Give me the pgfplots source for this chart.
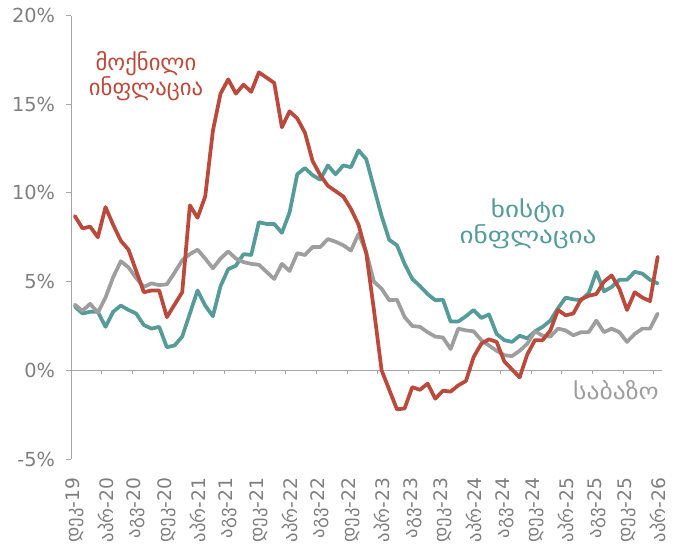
\documentclass[border=0pt]{standalone}
\usepackage{pgfplots}
\pgfplotsset{compat=1.18}
\usepackage{pgfplotstable}
\usepackage{fontspec}
\setmainfont{DejaVu Sans}

\definecolor{flexred}{HTML}{BA4A3B}
\definecolor{rigidteal}{HTML}{559C98}
\definecolor{coregray}{HTML}{9E9E9E}
\definecolor{axisgray}{HTML}{A6A6A6}
\definecolor{labelgray}{HTML}{7F7F7F}

% monthly values, Dec-19 (i=0) to Apr-26 (i=76)
\pgfplotstableread{
i  red    teal   gray
0  8.7    3.6    3.7
1  8.0    3.2    3.35
2  8.1    3.3    3.75
3  7.5    3.3    3.25
4  9.2    2.45   4.1
5  8.2    3.3    5.25
6  7.3    3.65   6.15
7  6.8    3.4    5.8
8  5.6    3.2    5.2
9  4.4    2.55   4.7
10 4.5    2.35   4.9
11 4.5    2.45   4.8
12 3.0    1.3    4.85
13 3.7    1.4    5.5
14 4.4    1.9    6.2
15 9.3    3.2    6.55
16 8.6    4.5    6.8
17 9.8    3.65   6.3
18 13.5   3.05   5.75
19 15.6   4.75   6.3
20 16.4   5.7    6.7
21 15.6   5.9    6.3
22 16.1   6.55   6.1
23 15.7   6.5    6.0
24 16.8   8.35   5.95
25 16.5   8.25   5.55
26 16.2   8.25   5.15
27 13.7   7.75   6.0
28 14.6   8.9    5.6
29 14.2   11.05  6.6
30 13.4   11.4   6.5
31 11.8   11.0   6.95
32 11.0   10.75  6.95
33 10.4   11.55  7.4
34 10.1   11.05  7.25
35 9.8    11.55  7.05
36 9.1    11.45  6.75
37 8.2    12.4   7.7
38 6.6    11.9   6.65
39 3.4    10.3   5.0
40 0.0    8.7    4.6
41 -1.1   7.35   3.95
42 -2.2   7.05   3.98
43 -2.15  6.0    3.0
44 -0.95  5.15   2.5
45 -1.1   4.75   2.45
46 -0.75  4.3    2.15
47 -1.6   3.95   1.9
48 -1.15  3.98   1.85
49 -1.2   2.75   1.2
50 -0.85  2.75   2.35
51 -0.6   3.05   2.25
52 0.75   3.4    2.2
53 1.5    2.95   1.7
54 1.75   3.15   1.4
55 1.6    2.05   1.1
56 0.5    1.7    0.85
57 0.05   1.6    0.8
58 -0.4   1.95   1.1
59 0.9    1.8    1.5
60 1.7    2.2    2.2
61 1.7    2.45   1.95
62 2.25   2.8    1.9
63 3.4    3.5    2.35
64 3.1    4.1    2.25
65 3.2    4.0    1.97
66 4.0    3.95   2.15
67 4.2    4.35   2.15
68 4.3    5.55   2.8
69 5.0    4.45   2.15
70 5.35   4.7    2.35
71 4.6    5.1    2.15
72 3.4    5.1    1.6
73 4.4    5.55   2.05
74 4.1    5.45   2.35
75 3.9    5.1    2.35
76 6.4    4.9    3.2
}\inflation

\begin{document}
\begin{tikzpicture}
\useasboundingbox (0,0) rectangle (505.5pt,409.5pt);
\begin{axis}[
    at={(53.25pt,65.25pt)}, anchor=south west,
    scale only axis, width=442.9pt, height=332.6pt,
    xmin=-0.5, xmax=76.5, ymin=-5, ymax=20,
    axis lines*=left,
    axis line style={-},
    x axis line style={draw=none},
    y axis line style={draw=axisgray, line width=0.75pt},
    ytick={-5,0,5,10,15,20},
    yticklabel={\pgfmathprintnumber{\tick}\%},
    /pgf/number format/assume math mode=true,
    ytick align=outside,
    major tick length=3.75pt,
    ytick style={draw=axisgray, line width=0.75pt},
    xtick={0,4,...,76},
    xticklabels={დეკ-19,აპრ-20,აგვ-20,დეკ-20,აპრ-21,აგვ-21,დეკ-21,აპრ-22,აგვ-22,დეკ-22,აპრ-23,აგვ-23,დეკ-23,აპრ-24,აგვ-24,დეკ-24,აპრ-25,აგვ-25,დეკ-25,აპრ-26},
    xtick style={draw=none},
    tick label style={text=labelgray},
    xticklabel style={rotate=90, anchor=east, inner sep=0pt, font=\fontsize{14}{16}\selectfont},
    xticklabel shift=14pt,
    yticklabel style={anchor=east, inner sep=0pt, font=\fontsize{14.5}{16}\selectfont},
    yticklabel shift=8pt,
    clip=false,
    every axis plot/.append style={line width=2.8pt, line join=round, line cap=round, mark=none},
]
% zero line with category ticks
\draw[axisgray, line width=0.75pt] (axis cs:-0.5,0) -- (axis cs:76.5,0);
\pgfplotsinvokeforeach{-0.5,3.5,7.5,11.5,15.5,19.5,23.5,27.5,31.5,35.5,39.5,43.5,47.5,51.5,55.5,59.5,63.5,67.5,71.5,75.5}{
  \draw[axisgray, line width=0.75pt] (axis cs:#1,0) -- ([yshift=-3pt]axis cs:#1,0);
}
\addplot[rigidteal] table[x=i, y=teal] {\inflation};
\addplot[coregray] table[x=i, y=gray] {\inflation};
\addplot[flexred] table[x=i, y=red] {\inflation};
\end{axis}

\begin{scope}[x=0.75pt, y=-0.75pt, shift={(0pt,409.5pt)}]
\node[text=flexred, align=center, font=\fontsize{17}{16.5}\selectfont] at (146,76) {მოქნილი\\ინფლაცია};
\node[text=rigidteal, align=center, font=\fontsize{17}{16.5}\selectfont, transform shape, xscale=1.2] at (528,224) {ხისტი\\ინფლაცია};
\node[text=coregray, font=\fontsize{17}{16.5}\selectfont, transform shape, xscale=1.13] at (616,390) {საბაზო};
\end{scope}
\end{tikzpicture}
\end{document}
